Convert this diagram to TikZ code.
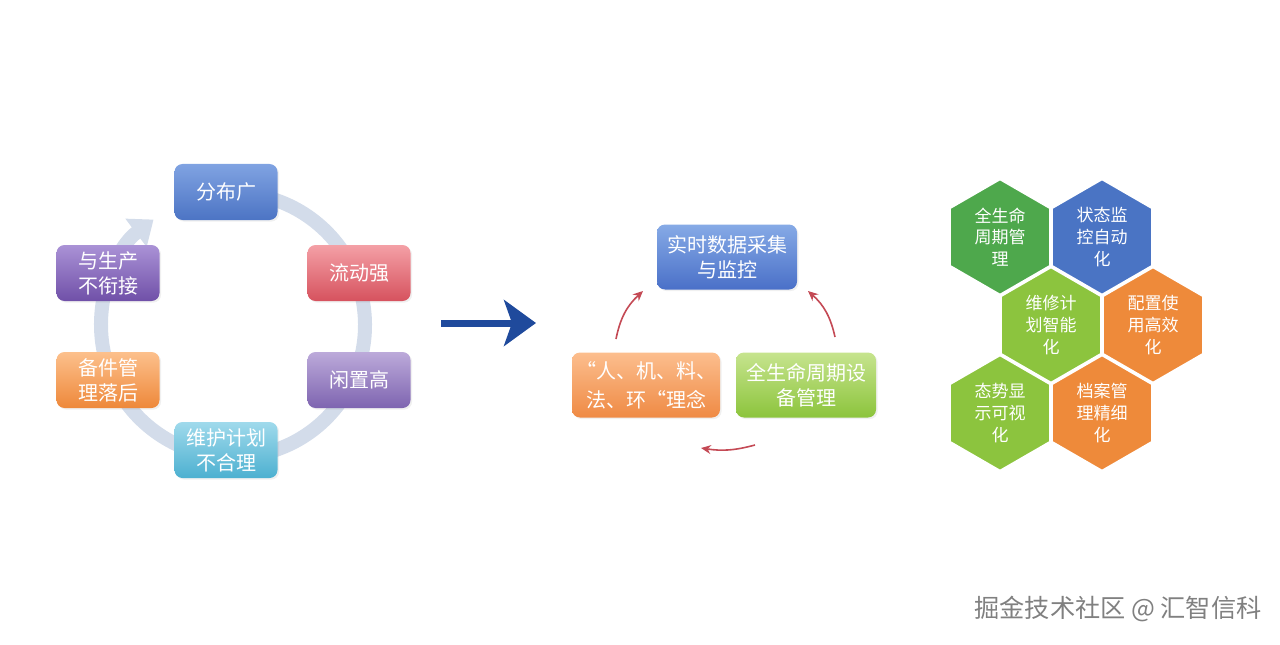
\documentclass[tikz,border=0pt]{standalone}
\usepackage{fontspec}
\setmainfont{Noto Sans CJK SC}
\usetikzlibrary{arrows.meta,shapes.geometric,shadows}

\definecolor{ringgray}{HTML}{D3DCEA}
\definecolor{arrowblue}{HTML}{1F4A9C}
\definecolor{arrowred}{HTML}{C44A55}
\definecolor{hexgreen}{HTML}{4EA84C}
\definecolor{hexblue}{HTML}{4A74C4}
\definecolor{hexlime}{HTML}{8CC43E}
\definecolor{hexorange}{HTML}{EE8A3A}

\begin{document}
\begin{tikzpicture}[
		x=0.5pt, y=0.5pt,
		issue/.style={
			rectangle,
			rounded corners=4pt,
			align=center,
			text=white,
			minimum width=51.5pt,
			minimum height=28pt,
			inner sep=2pt,
			drop shadow={opacity=0.12, shadow xshift=0.8pt, shadow yshift=-0.8pt},
			font=\fontsize{10}{12.5}\selectfont
		},
		idea/.style={
			issue,
			minimum width=70pt,
			minimum height=32.5pt
		},
		hexcell/.style={
			regular polygon,
			regular polygon sides=6,
			shape border rotate=30,
			minimum size=58pt,
			inner sep=0pt,
			draw=white,
			line width=1.2pt,
			align=center,
			text=white,
			font=\fontsize{8.5}{10.8}\selectfont
		},
		ring/.style={
			line width=7pt,
			ringgray,
			-{Triangle[length=11pt, width=17pt]}
		},
		bigarrow/.style={
			line width=3.5pt,
			arrowblue,
			-{Stealth[length=16pt, width=23pt, inset=4pt]}
		},
		cyclearrow/.style={
			line width=0.8pt,
			arrowred,
			-{Stealth[length=5pt, width=4.5pt]}
		}
		]
		
		\useasboundingbox (0,0) rectangle (1280,644);
		
		% left: problem cycle
		\coordinate (ringc) at (233,319);
		\draw[ring] (ringc) ++(95:132) arc[start angle=95, end angle=-233, radius=132];
		
		\node[issue, top color={rgb,255:red,128;green,163;blue,226}, bottom color={rgb,255:red,76;green,116;blue,196}] (wide) at (226,452) {分布广};
		\node[issue, top color={rgb,255:red,244;green,160;blue,166}, bottom color={rgb,255:red,214;green,82;blue,94}] (flow) at (359,371) {流动强};
		\node[issue, top color={rgb,255:red,188;green,170;blue,218}, bottom color={rgb,255:red,126;green,100;blue,176}] (idle) at (359,264) {闲置高};
		\node[issue, top color={rgb,255:red,160;green,218;blue,236}, bottom color={rgb,255:red,76;green,176;blue,208}] (plan) at (226,194) {维护计划\\不合理};
		\node[issue, top color={rgb,255:red,252;green,192;blue,140}, bottom color={rgb,255:red,238;green,136;blue,58}] (spare) at (108,264) {备件管\\理落后};
		\node[issue, top color={rgb,255:red,170;green,146;blue,214}, bottom color={rgb,255:red,112;green,80;blue,168}] (link) at (108,371) {与生产\\不衔接};
		
		% middle arrow
		\coordinate (go0) at (441,321);
		\coordinate (go1) at (536,321);
		\draw[bigarrow] (go0) -- (go1);
		
		% middle: concept cycle
		\node[idea, top color={rgb,255:red,134;green,170;blue,230}, bottom color={rgb,255:red,74;green,112;blue,200}] (monitor) at (727,387) {实时数据采集\\与监控};
		\node[idea, top color={rgb,255:red,252;green,190;blue,142}, bottom color={rgb,255:red,239;green,138;blue,68}, font=\fontsize{10}{14.5}\selectfont] (mmm) at (646,259) {“人、机、料、\\法、环“理念};
		\node[idea, top color={rgb,255:red,198;green,228;blue,142}, bottom color={rgb,255:red,140;green,196;blue,60}] (life) at (806,259) {全生命周期设\\备管理};
		
		\coordinate (la0) at (616,305);
		\coordinate (la1) at (643,353);
		\coordinate (ra0) at (835,307);
		\coordinate (ra1) at (808,353);
		\coordinate (ba0) at (755,199);
		\coordinate (ba1) at (701,196);
		\draw[cyclearrow] (la0) to[bend left=18] (la1);
		\draw[cyclearrow] (ra0) to[bend right=18] (ra1);
		\draw[cyclearrow] (ba0) to[bend left=12] (ba1);
		
		% right: honeycomb
		\node[hexcell, fill=hexgreen] (h1) at (1000,407) {全生命\\周期管\\理};
		\node[hexcell, fill=hexblue] (h2) at (1102,407) {状态监\\控自动\\化};
		\node[hexcell, fill=hexlime] (h3) at (1051,319) {维修计\\划智能\\化};
		\node[hexcell, fill=hexorange] (h4) at (1153,319) {配置使\\用高效\\化};
		\node[hexcell, fill=hexlime] (h5) at (1000,231) {态势显\\示可视\\化};
		\node[hexcell, fill=hexorange] (h6) at (1102,231) {档案管\\理精细\\化};
		
		% watermark
		\node[font=\fontsize{12.6}{12.6}\selectfont, text=black!50] (mark) at (1118,35) {掘金技术社区 @ 汇智信科};
		
	\end{tikzpicture}
\end{document}
